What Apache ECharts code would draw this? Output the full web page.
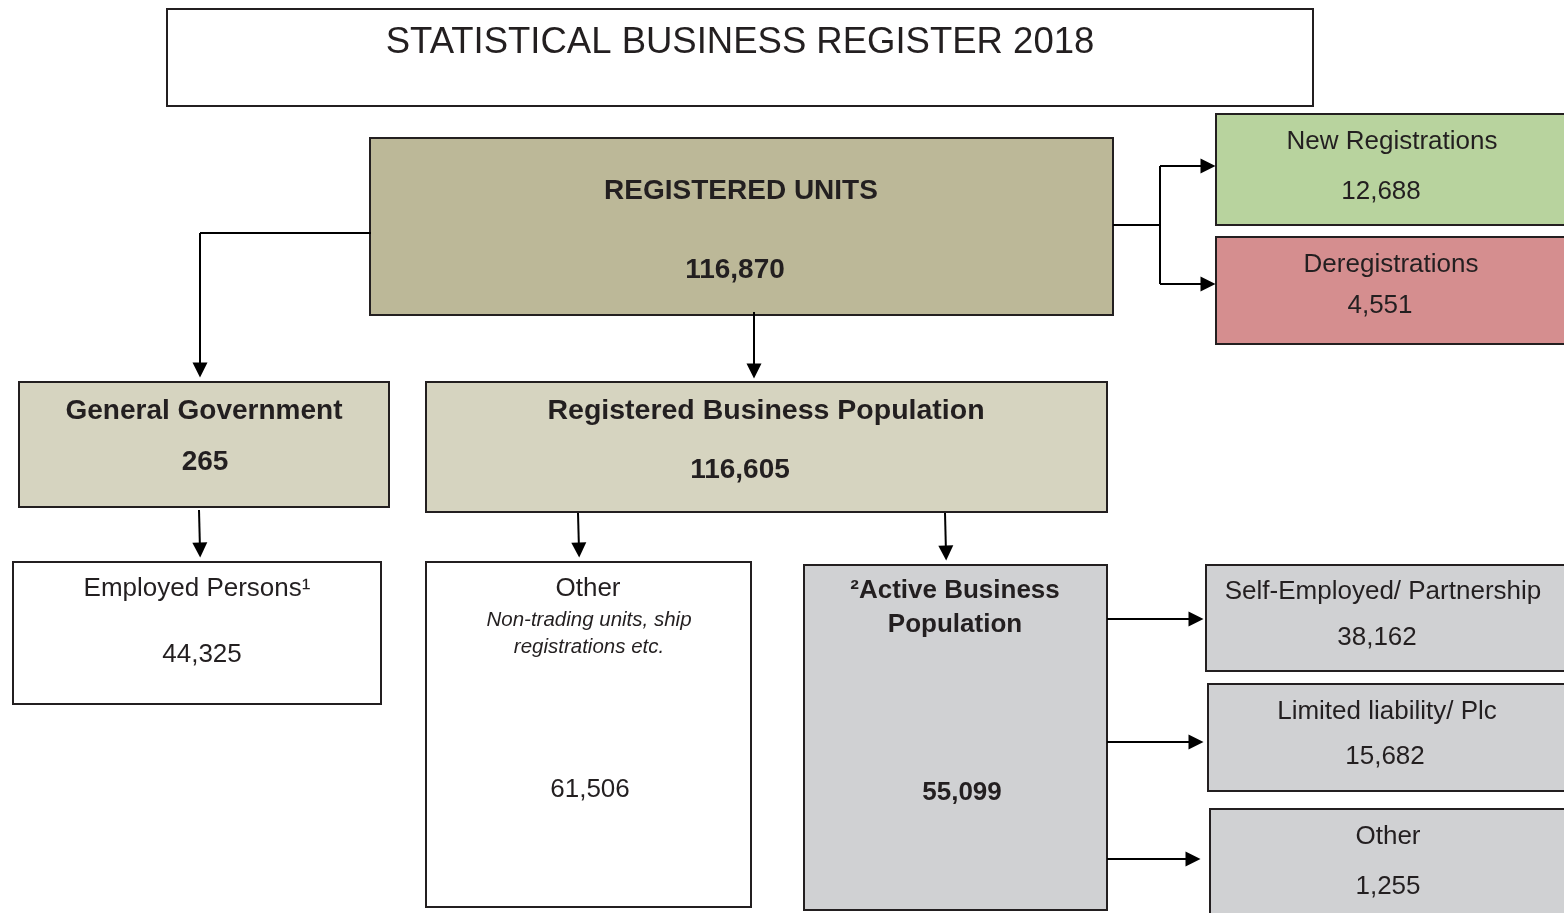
<!DOCTYPE html>
<html><head><meta charset="utf-8">
<script src="https://cdn.jsdelivr.net/npm/echarts@6/dist/echarts.min.js"></script>
<style>html,body{margin:0;padding:0;background:#fff}#c{width:1564px;height:913px}</style>
</head><body><div id="c"></div>
<script>
// ---- data ----
const chartTitle = 'STATISTICAL BUSINESS REGISTER 2018';
const boxLabels = ['REGISTERED UNITS', 'New Registrations', 'Deregistrations', 'General Government',
  'Registered Business Population', 'Employed Persons\u00B9', 'Other', '\u00B2Active Business\nPopulation',
  'Self-Employed/ Partnership', 'Limited liability/ Plc', 'Other'];
const boxValues = [116870, 12688, 4551, 265, 116605, 44325, 61506, 55099, 38162, 15682, 1255];
const otherNote = 'Non-trading units, ship\nregistrations etc.';

// ---- layout (positions in diagram units) ----
// [x0, y0, x1, y1, labelX, labelY, valueX, valueY]
const boxLayout = [
  [370, 138, 1113, 315, 741, 191, 735, 270],
  [1216, 114, 1570, 225, 1392, 142, 1381, 192],
  [1216, 237, 1570, 344, 1391, 265, 1380, 306],
  [19, 382, 389, 507, 204, 411, 205, 462],
  [426, 382, 1107, 512, 766, 411, 740, 470],
  [13, 562, 381, 704, 197, 589, 202, 655],
  [426, 562, 751, 907, 588, 589, 590, 790],
  [804, 565, 1107, 910, 955, 608, 962, 793],
  [1206, 565, 1570, 671, 1383, 592, 1377, 638],
  [1208, 684, 1570, 791, 1387, 712, 1385, 757],
  [1210, 809, 1570, 920, 1388, 837, 1388, 887]
];
const titleLayout = [167, 9, 1313, 106, 740, 43];
const noteLayout = [589, 634];
// arrow segments end at (box edge - half arrowhead length)
const connectors = [
  {coords: [[1113, 225], [1160, 225]], arrow: false},
  {coords: [[1160, 225], [1160, 166], [1208, 166]], arrow: true},
  {coords: [[1160, 225], [1160, 284], [1208, 284]], arrow: true},
  {coords: [[371, 233], [200, 233], [200, 370]], arrow: true},
  {coords: [[754, 312], [754, 371]], arrow: true},
  {coords: [[199, 510], [200, 550]], arrow: true},
  {coords: [[578, 513], [579, 550]], arrow: true},
  {coords: [[945, 513], [946, 553]], arrow: true},
  {coords: [[1107, 619], [1196, 619]], arrow: true},
  {coords: [[1107, 742], [1196, 742]], arrow: true},
  {coords: [[1107, 859], [1193, 859]], arrow: true}
];

// ---- styles ----
const REG = '"Liberation Sans", Arial, sans-serif';
const boxStyle = [
  {fill: '#bcb898', lf: 'bold 28px ' + REG, vf: 'bold 28px ' + REG},
  {fill: '#b8d39e', lf: '26px ' + REG, vf: '26px ' + REG},
  {fill: '#d58e8f', lf: '26px ' + REG, vf: '26px ' + REG},
  {fill: '#d6d4c0', lf: 'bold 28px ' + REG, vf: 'bold 28px ' + REG},
  {fill: '#d6d4c0', lf: 'bold 28.5px ' + REG, vf: 'bold 28px ' + REG},
  {fill: '#ffffff', lf: '26px ' + REG, vf: '26px ' + REG},
  {fill: '#ffffff', lf: '26px ' + REG, vf: '26px ' + REG},
  {fill: '#d0d1d3', lf: 'bold 26px ' + REG, vf: 'bold 26px ' + REG, lh: 34},
  {fill: '#d0d1d3', lf: '26px ' + REG, vf: '26px ' + REG},
  {fill: '#d0d1d3', lf: '26px ' + REG, vf: '26px ' + REG},
  {fill: '#d0d1d3', lf: '26px ' + REG, vf: '26px ' + REG}
];
const INK = '#231f20';
const fmt = v => v.toLocaleString('en-US');

function renderBox(params, api) {
  const i = api.value(0);
  const children = [];
  if (i < 0) {
    const L = titleLayout;
    const p0 = api.coord([L[0], L[1]]), p1 = api.coord([L[2], L[3]]), t = api.coord([L[4], L[5]]);
    children.push({type: 'rect', shape: {x: p0[0], y: p0[1], width: p1[0] - p0[0], height: p1[1] - p0[1]},
      style: {fill: '#fff', stroke: INK, lineWidth: 2}});
    children.push({type: 'text', style: {text: chartTitle, x: t[0], y: t[1], align: 'center', verticalAlign: 'middle',
      font: '36.5px ' + REG, fill: INK}});
    return {type: 'group', children};
  }
  const L = boxLayout[i], S = boxStyle[i];
  const p0 = api.coord([L[0], L[1]]), p1 = api.coord([L[2], L[3]]);
  const lp = api.coord([L[4], L[5]]), vp = api.coord([L[6], L[7]]);
  children.push({type: 'rect', shape: {x: p0[0], y: p0[1], width: p1[0] - p0[0], height: p1[1] - p0[1]},
    style: {fill: S.fill, stroke: INK, lineWidth: 2}});
  children.push({type: 'text', style: {text: boxLabels[i], x: lp[0], y: lp[1], align: 'center', verticalAlign: 'middle',
    font: S.lf, fill: INK, lineHeight: S.lh || 30}});
  children.push({type: 'text', style: {text: fmt(boxValues[i]), x: vp[0], y: vp[1], align: 'center', verticalAlign: 'middle',
    font: S.vf, fill: INK}});
  if (i === 6) {
    const np = api.coord(noteLayout);
    children.push({type: 'text', style: {text: otherNote, x: np[0], y: np[1], align: 'center', verticalAlign: 'middle',
      font: 'italic 20.5px ' + REG, fill: INK, lineHeight: 27}});
  }
  return {type: 'group', children};
}

// split connectors into plain polylines and final arrow segments
const plainPaths = [];
const arrowSegs = [];
connectors.forEach(c => {
  const n = c.coords.length;
  if (!c.arrow) { plainPaths.push({coords: c.coords}); return; }
  if (n > 2) plainPaths.push({coords: c.coords.slice(0, n - 1)});
  arrowSegs.push({coords: [c.coords[n - 2], c.coords[n - 1]]});
});

const chart = echarts.init(document.getElementById('c'), null, {renderer: 'canvas'});
chart.setOption({
  animation: false,
  grid: {left: 0, right: 0, top: 0, bottom: 0},
  xAxis: {type: 'value', min: 0, max: 1564, show: false},
  yAxis: {type: 'value', min: 0, max: 913, inverse: true, show: false},
  series: [
    {
      type: 'custom', coordinateSystem: 'cartesian2d', clip: false, renderItem: renderBox,
      encode: {x: 0, y: 0},
      data: [[-1]].concat(boxLabels.map((_, i) => [i]))
    },
    {
      type: 'lines', coordinateSystem: 'cartesian2d', polyline: true, z: 5,
      lineStyle: {color: '#000', width: 2, opacity: 1},
      data: plainPaths
    },
    {
      type: 'lines', coordinateSystem: 'cartesian2d', polyline: false, z: 5,
      lineStyle: {color: '#000', width: 2, opacity: 1},
      itemStyle: {color: '#000'},
      data: arrowSegs,
      symbol: ['none', 'triangle'], symbolSize: [14, 15]
    }
  ]
});
</script>
</body></html>
